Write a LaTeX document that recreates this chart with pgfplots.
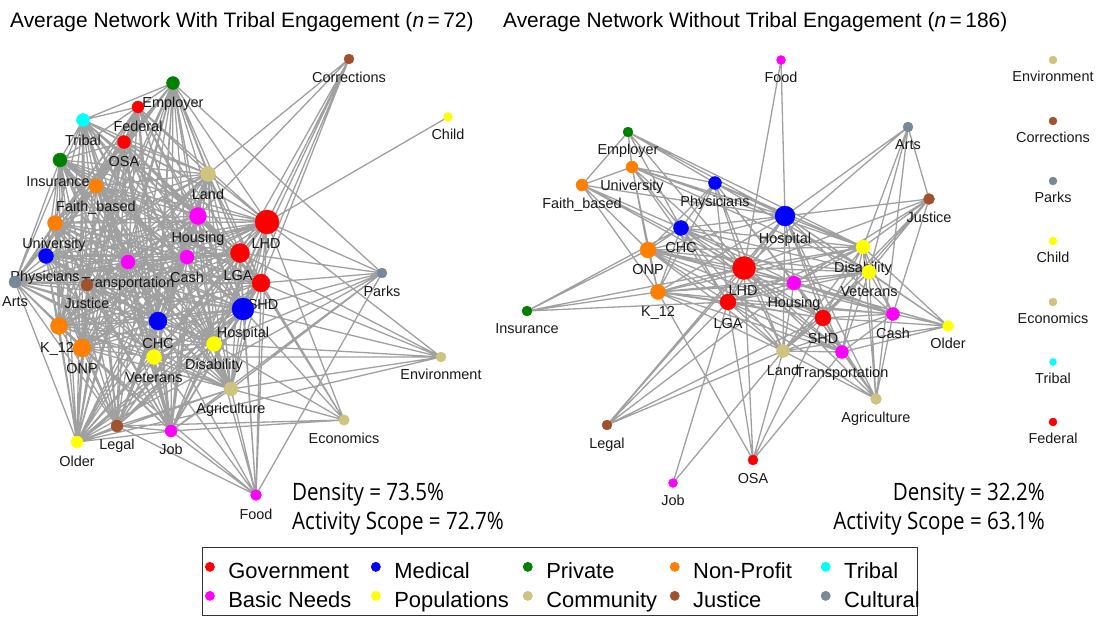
\documentclass[border=0pt]{standalone}
\usepackage{pgfplots}
\pgfplotsset{compat=1.18}
\usepackage{fontspec}
\setmainfont{Liberation Sans}
\newfontfamily\densfont[FakeStretch=0.86]{Open Sans}

\definecolor{cGov}{RGB}{255,0,0}
\definecolor{cMed}{RGB}{0,0,255}
\definecolor{cPri}{RGB}{0,128,0}
\definecolor{cNon}{RGB}{255,127,0}
\definecolor{cTri}{RGB}{0,255,255}
\definecolor{cBas}{RGB}{255,0,255}
\definecolor{cPop}{RGB}{255,255,0}
\definecolor{cCom}{RGB}{206,196,128}
\definecolor{cJus}{RGB}{160,82,45}
\definecolor{cCul}{RGB}{119,136,153}
\definecolor{cEdge}{RGB}{160,160,160}

\catcode`\_=12

\gdef\edgelist{}
\gdef\marklist{}
\gdef\labellist{}

% nodes: name/x/y/radius/colour/label x/label y  (pixel coordinates)
\newcommand\addnodes[2]{%
  \foreach \nm/\px/\py/\rr/\cc/\lx/\ly in {#2}{%
    \expandafter\xdef\csname nd#1\nm\endcsname{\px,\py}%
    \xdef\marklist{\unexpanded\expandafter{\marklist}\noexpand\addplot[forget plot,only marks,mark=*,mark size=\rr,color=\cc] coordinates {(\px,\py)};}%
    \xdef\labellist{\unexpanded\expandafter{\labellist}\noexpand\node[lbl] at (axis cs:\lx,\ly) {\nm};}%
  }%
}
\newcommand\addedges[3]{%
  \foreach \b in {#3}{%
    \xdef\edgelist{\edgelist(\csname nd#1#2\endcsname)(\csname nd#1\b\endcsname)(nan,nan)}%
  }%
}
\newcommand\clique[2]{%
  \foreach \a [count=\i] in {#2}{%
    \foreach \b [count=\j] in {#2}{%
      \ifnum\j>\i
        \xdef\edgelist{\edgelist(\csname nd#1\a\endcsname)(\csname nd#1\b\endcsname)(nan,nan)}%
      \fi
    }%
  }%
}

\addnodes{L}{%
Corrections/349/59/5/cJus/349/77,%
Child/448/117/4.5/cPop/448/134,%
Employer/173/83/6.5/cPri/173/102,%
Federal/138/107/6/cGov/138/126,%
Tribal/83/120/6.5/cTri/83/140,%
OSA/124/142/6.5/cGov/124/161,%
Insurance/60/160/7/cPri/58/181,%
Faith_based/96/186/7/cNon/96/206,%
Land/208/174/7.5/cCom/208/194,%
University/55/223/7.5/cNon/54/243,%
Housing/198/216/8.5/cBas/198/237,%
LHD/267/222/12/cGov/266/243,%
Physicians/46/256/7.5/cMed/45/276,%
Transportation/128/262/7/cBas/128/282,%
Cash/187/257/7/cBas/187/277,%
LGA/240/253/9.5/cGov/238/275,%
Arts/15/282/6/cCul/15/301,%
Justice/87/285/6/cJus/87/303,%
SHD/261/283/9/cGov/263/304,%
Parks/382/273/5/cCul/382/291,%
Hospital/243/309/11/cMed/243/332,%
CHC/158/321/9/cMed/158/343,%
K_12/59/326/8.5/cNon/57/347,%
ONP/82/348/9/cNon/82/368,%
Disability/214/344/7.5/cPop/214/364,%
Veterans/154/357/7.5/cPop/154/377,%
Environment/441/357/5/cCom/441/374,%
Agriculture/231/389/7/cCom/231/408,%
Economics/344/420/5.3/cCom/344/438,%
Legal/117/426/6/cJus/117/444,%
Job/171/431/6/cBas/171/449,%
Older/77/442/6/cPop/77/461,%
Food/256/495/5.5/cBas/256/514%
}

\addnodes{R}{%
Food/781/60/4.5/cBas/781/77,%
Employer/628/132/5/cPri/628/149,%
University/632/167/6/cNon/632/185,%
Faith_based/582/185/6/cNon/582/203,%
Physicians/715/183/6.5/cMed/715/201,%
Arts/908/127/5/cCul/908/144,%
Justice/929/199/5.5/cJus/929/217,%
Hospital/785/216/10/cMed/785/238,%
CHC/681/228/7.5/cMed/681/247,%
ONP/648/250/8/cNon/648/269,%
LHD/744/268/11.5/cGov/743/290,%
Disability/863/247/7/cPop/863/267,%
Veterans/869/272/7/cPop/869/291,%
Housing/794/283/7/cBas/794/302,%
K_12/658/292/7.5/cNon/658/311,%
LGA/728/302/8/cGov/728/323,%
Insurance/527/311/5/cPri/527/328,%
SHD/823/318/8/cGov/823/338,%
Cash/893/314/6.5/cBas/893/333,%
Older/948/326/5.5/cPop/948/343,%
Land/783/351/6.5/cCom/783/370,%
Transportation/842/352/6.5/cBas/842/372,%
Agriculture/876/399/5.5/cCom/876/417,%
Legal/607/425/5/cJus/607/443,%
OSA/753/460/5/cGov/753/478,%
Job/673/483/4.5/cBas/673/500,%
Environment/1053/60/4/cCom/1053/76,%
Corrections/1053/121/4/cJus/1053/137,%
Parks/1053/181/4/cCul/1053/197,%
Child/1053/241/4/cPop/1053/257,%
Economics/1053/302/4/cCom/1053/318,%
Tribal/1053/362/3.5/cTri/1053/378,%
Federal/1053/422/4/cGov/1053/438%
}

% ---- left network edges
\clique{L}{Employer,Federal,Tribal,OSA,Insurance,Faith_based,Land,University,Housing,LHD,Physicians,Transportation,Cash,LGA,Arts,Justice,SHD,Hospital,CHC,K_12,ONP,Disability,Veterans,Agriculture,Legal,Job,Older}
\addedges{L}{Corrections}{Land,Housing,LHD,LGA,SHD,Hospital,Disability}
\addedges{L}{Child}{LHD}
\addedges{L}{Parks}{Employer,LHD,LGA,SHD,Hospital,Disability,Agriculture,Job,Older,Food}
\addedges{L}{Environment}{LHD,LGA,SHD,Hospital,Disability,Agriculture,Veterans,Older}
\addedges{L}{Economics}{LHD,LGA,SHD,Hospital,Disability,Agriculture,Legal,Job}
\addedges{L}{Food}{LHD,LGA,SHD,Hospital,Agriculture,Disability,CHC,Veterans,ONP,Legal,Job}

% ---- right network edges
\addedges{R}{Food}{Hospital,LHD}
\addedges{R}{Employer}{Faith_based,University,Physicians,Hospital,CHC,LHD,Disability}
\addedges{R}{University}{Faith_based,Physicians,Hospital,ONP,CHC,LHD,LGA,K_12,Disability,Veterans}
\addedges{R}{Faith_based}{ONP,CHC,LHD,Hospital,K_12,SHD}
\addedges{R}{Physicians}{Hospital,CHC,ONP,LHD,LGA,K_12,Housing,Disability,Veterans,SHD,Land}
\addedges{R}{Arts}{Hospital,LHD,Disability,Veterans,Justice,Agriculture}
\addedges{R}{Justice}{Hospital,LHD,Disability,Veterans,Housing,SHD,Cash,Land}
\addedges{R}{Hospital}{CHC,ONP,LHD,Disability,Veterans,Housing,K_12,LGA,SHD,Cash,Older,Land,Transportation,Agriculture,Legal}
\addedges{R}{CHC}{ONP,LHD,K_12,LGA,Housing,SHD,Disability,Veterans,Land,Cash,Transportation,Insurance}
\addedges{R}{ONP}{LHD,K_12,LGA,Housing,SHD,Disability,Veterans,Insurance,Land,Cash,Transportation}
\addedges{R}{LHD}{Disability,Veterans,Housing,K_12,LGA,SHD,Cash,Older,Land,Transportation,Agriculture,Legal,OSA,Insurance}
\addedges{R}{Disability}{Veterans,Housing,LGA,SHD,Cash,Older,Land,Transportation,Agriculture,K_12}
\addedges{R}{Veterans}{Housing,LGA,SHD,Cash,Older,Land,Transportation,Agriculture,K_12}
\addedges{R}{Housing}{K_12,LGA,SHD,Cash,Older,Land,Transportation,Agriculture,Legal}
\addedges{R}{K_12}{LGA,SHD,Insurance,Land,OSA,Cash,Transportation}
\addedges{R}{LGA}{SHD,Cash,Land,Transportation,Agriculture,OSA,Job,Legal,Insurance}
\addedges{R}{SHD}{Cash,Older,Land,Transportation,Agriculture,OSA,Legal}
\addedges{R}{Cash}{Older,Land,Transportation,Agriculture}
\addedges{R}{Older}{Land,Transportation}
\addedges{R}{Land}{Transportation,Agriculture,Legal,OSA,Job}
\addedges{R}{Transportation}{Agriculture,OSA}

\xdef\drawedges{\noexpand\addplot[forget plot,no markers,color=cEdge,line width=1.3bp] coordinates {\edgelist};}

\tikzset{lbl/.style={font=\fontsize{14.5}{16}\selectfont, inner sep=0pt, text height=10.4bp, text depth=0pt, anchor=center, text=black!90}}

\begin{document}
\begin{tikzpicture}
\begin{axis}[
  hide axis, scale only axis, width=1099bp, height=617bp,
  xmin=0, xmax=1099, ymin=0, ymax=617, y dir=reverse,
  clip=false, unbounded coords=jump,
  legend columns=5, legend cell align=left,
  legend style={at={(axis description cs:0.1838,0.002)}, anchor=south west,
    draw=black!80, line width=0.8bp,
    font=\fontsize{22}{24}\selectfont, inner xsep=3bp, inner ysep=5bp,
    nodes={inner ysep=1.5bp, text height=24.5bp, text depth=1.5bp},
    /tikz/every odd column/.append style={column sep=12bp},
    /tikz/every even column/.append style={column sep=10bp}},
]
\path (axis cs:0,0) rectangle (axis cs:1099,617);
\addlegendimage{only marks,mark=*,mark size=4.5,color=cGov}
\addlegendentry{\makebox[131bp][l]{Government}}
\addlegendimage{only marks,mark=*,mark size=4.5,color=cMed}
\addlegendentry{\makebox[117bp][l]{Medical}}
\addlegendimage{only marks,mark=*,mark size=4.5,color=cPri}
\addlegendentry{\makebox[112bp][l]{Private}}
\addlegendimage{only marks,mark=*,mark size=4.5,color=cNon}
\addlegendentry{\makebox[116bp][l]{Non-Profit}}
\addlegendimage{only marks,mark=*,mark size=4.5,color=cTri}
\addlegendentry{\makebox[68bp][l]{Tribal}}
\addlegendimage{only marks,mark=*,mark size=4.5,color=cBas}
\addlegendentry{\makebox[131bp][l]{Basic Needs}}
\addlegendimage{only marks,mark=*,mark size=4.5,color=cPop}
\addlegendentry{\makebox[117bp][l]{Populations}}
\addlegendimage{only marks,mark=*,mark size=4.5,color=cCom}
\addlegendentry{\makebox[112bp][l]{Community}}
\addlegendimage{only marks,mark=*,mark size=4.5,color=cJus}
\addlegendentry{\makebox[116bp][l]{Justice}}
\addlegendimage{only marks,mark=*,mark size=4.5,color=cCul}
\addlegendentry{\makebox[68bp][l]{Cultural}}

\drawedges
\marklist
\labellist

\node[anchor=base west, font=\fontsize{21}{24}\selectfont, inner sep=0pt] at (axis cs:10,27.5) {Average Network With Tribal Engagement (\textit{n}\,=\,72)};
\node[anchor=base west, font=\fontsize{21}{24}\selectfont, inner sep=0pt] at (axis cs:503,27.5) {Average Network Without Tribal Engagement (\textit{n}\,=\,186)};

\node[anchor=base west, font=\densfont\fontsize{24}{26}\selectfont, inner sep=0pt] at (axis cs:292,500.5) {Density = 73.5\%};
\node[anchor=base west, font=\densfont\fontsize{24}{26}\selectfont, inner sep=0pt] at (axis cs:292,529.5) {Activity Scope = 72.7\%};
\node[anchor=base east, font=\densfont\fontsize{24}{26}\selectfont, inner sep=0pt] at (axis cs:1045,500.5) {Density = 32.2\%};
\node[anchor=base east, font=\densfont\fontsize{24}{26}\selectfont, inner sep=0pt] at (axis cs:1045,529.5) {Activity Scope = 63.1\%};
\end{axis}
\end{tikzpicture}
\end{document}
